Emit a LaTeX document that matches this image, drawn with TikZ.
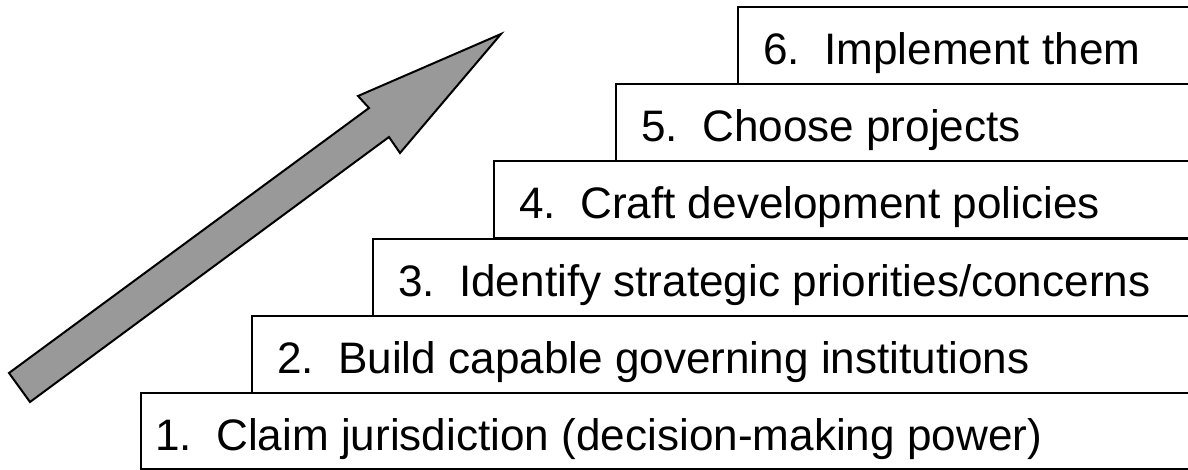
\documentclass[tikz,border=0pt]{standalone}
\usepackage{fontspec}
\setmainfont{Liberation Sans}
\begin{document}
\begin{tikzpicture}[x=1pt,y=-1pt,
  stepbox/.style={draw=black, line width=2pt, fill=white, inner sep=0pt, anchor=north west, minimum height=77pt},
  numtxt/.style={anchor=base west, inner sep=0pt, font=\fontsize{44.1}{48}\selectfont},
  labtxt/.style={anchor=base west, inner sep=0pt, font=\fontsize{44.1}{48}\selectfont}]
\useasboundingbox (0,0) rectangle (1188,470);
% boxes
\node[stepbox, minimum width=470pt] (b6) at (737,6) {};
\node[stepbox, minimum width=590pt] (b5) at (615,83) {};
\node[stepbox, minimum width=710pt] (b4) at (493,160) {};
\node[stepbox, minimum width=830pt] (b3) at (372,238) {};
\node[stepbox, minimum width=950pt] (b2) at (251,315) {};
\node[stepbox, minimum width=1060pt, minimum height=76pt] (b1) at (140,392) {};
% texts
\node[numtxt] (n6) at (763,65) {6.};
\node[labtxt] (l6) at (824,65) {Implement them};
\node[numtxt] (n5) at (641,142) {5.};
\node[labtxt] (l5) at (702,142) {Choose projects};
\node[numtxt] (n4) at (519,219) {4.};
\node[labtxt] (l4) at (580,219) {Craft development policies};
\node[numtxt] (n3) at (398,296) {3.};
\node[labtxt] (l3) at (459,296) {Identify strategic priorities/concerns};
\node[numtxt] (n2) at (277,373) {2.};
\node[labtxt] (l2) at (338,373) {Build capable governing institutions};
\node[numtxt] (n1) at (155,450) {1.};
\node[labtxt] (l1) at (216,450) {Claim jurisdiction (decision-making power)};
% arrow
\draw[line width=2pt, fill=black!40, line join=miter]
  (9,373) -- (369,108) -- (358,96) -- (501,34) -- (400,153) -- (389,137) -- (30,402) -- cycle;
\end{tikzpicture}
\end{document}
